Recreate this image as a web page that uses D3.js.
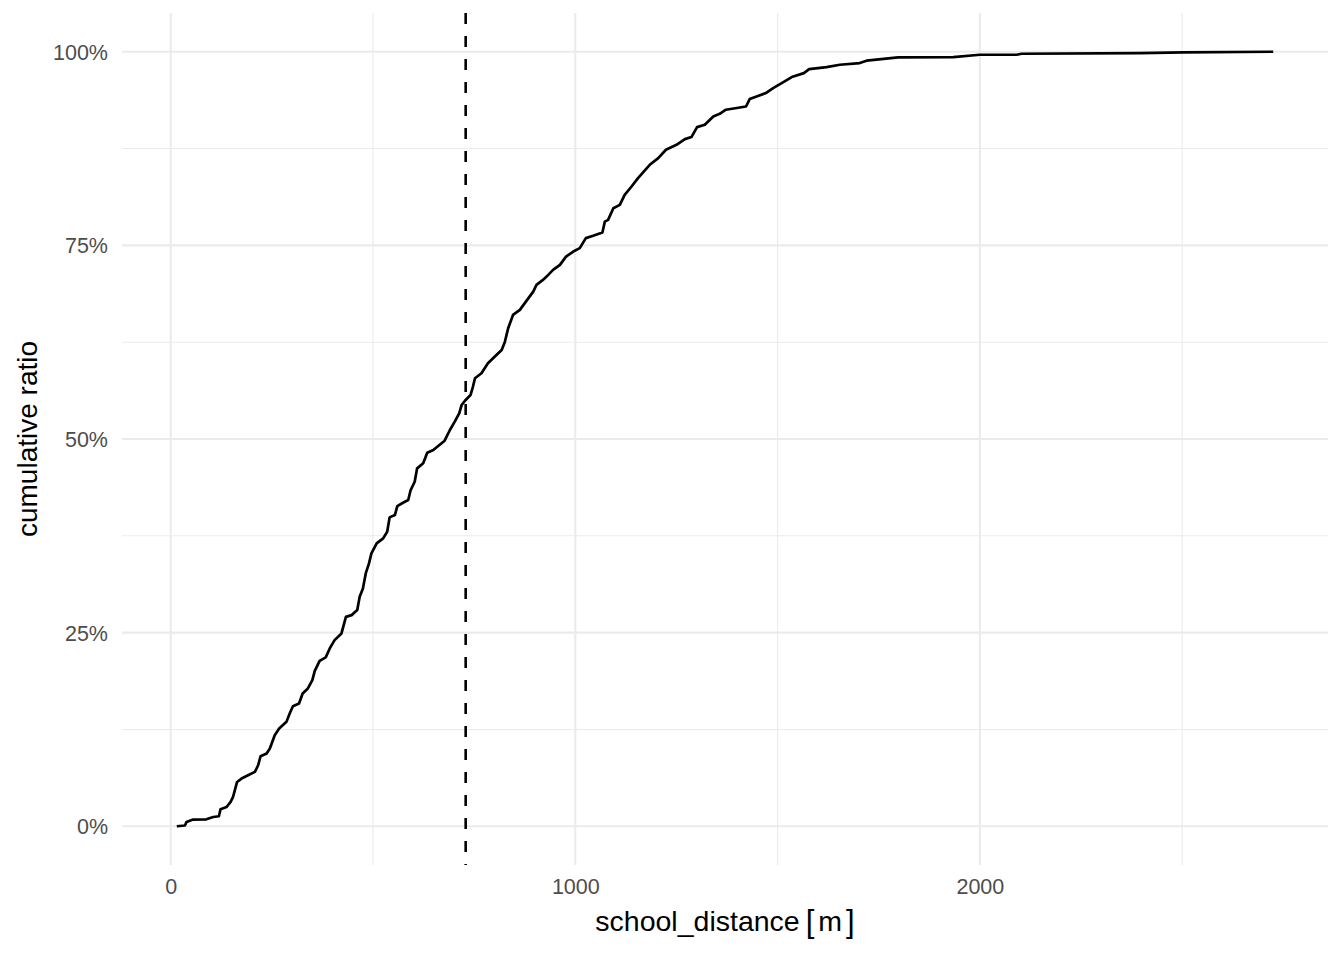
<!DOCTYPE html>
<html>
<head>
<meta charset="utf-8">
<script src="https://cdn.jsdelivr.net/npm/d3@7"></script>
<style>
  html, body { margin: 0; padding: 0; background: #fff; }
  svg { display: block; }
  text { font-family: "Liberation Sans", Arial, Helvetica, sans-serif; }
</style>
</head>
<body>
<svg id="chart" width="1344" height="960"></svg>
<script>
// ---- data ----
const distance = [15, 35, 39, 55, 88, 105, 119, 123, 138, 148, 154, 164, 175, 191, 208, 216, 222, 237, 245, 257, 268, 286, 294, 302, 317, 326, 339, 350, 356, 368, 383, 393, 405, 422, 433, 447, 461, 467, 475, 482, 490, 496, 509, 525, 535, 541, 554, 560, 574, 587, 593, 603, 609, 624, 634, 649, 661, 677, 690, 702, 713, 719, 729, 741, 747, 752, 768, 784, 805, 818, 826, 834, 846, 863, 881, 896, 904, 920, 929, 945, 962, 977, 995, 1011, 1026, 1044, 1067, 1073, 1081, 1094, 1110, 1122, 1139, 1155, 1184, 1205, 1224, 1250, 1271, 1287, 1301, 1320, 1341, 1357, 1372, 1399, 1422, 1431, 1448, 1471, 1489, 1510, 1535, 1565, 1578, 1621, 1654, 1703, 1720, 1798, 1934, 2000, 2091, 2103, 2396, 2503, 2725];
const cumulative = [0.0, 0.1, 0.56, 0.87, 0.9, 1.2, 1.29, 2.2, 2.49, 3.14, 3.79, 5.72, 6.16, 6.59, 7.02, 7.88, 9.04, 9.39, 10.04, 11.76, 12.62, 13.48, 14.56, 15.5, 15.85, 17.14, 17.79, 18.86, 20.06, 21.36, 21.8, 22.96, 24.03, 24.9, 27.04, 27.26, 27.91, 29.63, 30.71, 32.65, 33.94, 35.23, 36.52, 37.17, 38.02, 39.88, 40.18, 41.34, 41.77, 42.12, 43.41, 44.48, 46.21, 46.86, 48.23, 48.58, 49.1, 49.78, 51.16, 52.24, 53.32, 54.39, 55.04, 55.68, 56.76, 57.84, 58.49, 59.78, 60.85, 61.5, 62.57, 64.3, 66.02, 66.67, 67.96, 69.03, 69.9, 70.54, 70.97, 71.83, 72.48, 73.55, 74.2, 74.64, 75.93, 76.23, 76.65, 78.07, 78.29, 79.8, 80.23, 81.52, 82.6, 83.68, 85.4, 86.26, 87.34, 87.98, 88.72, 88.98, 90.27, 90.57, 91.64, 91.99, 92.51, 92.73, 92.93, 93.89, 94.22, 94.66, 95.31, 95.95, 96.73, 97.24, 97.76, 98.02, 98.32, 98.54, 98.84, 99.26, 99.31, 99.61, 99.61, 99.74, 99.83, 99.91, 100.0];
const medianDistance = 729;
const xTicks = [0, 1000, 2000];
const xMinorTicks = [500, 1500, 2500];
const yTicks = [0, 0.25, 0.5, 0.75, 1];
const yTickLabels = ["0%", "25%", "50%", "75%", "100%"];
const yMinorTicks = [0.125, 0.375, 0.625, 0.875];
const xTitle = "school_distance";
const xUnit = "m";
const yTitle = "cumulative ratio";

// ---- layout ----
const panel = { left: 122, right: 1328, top: 13, bottom: 865 };
const svg = d3.select("#chart");

const xMin = d3.min(distance), xMax = d3.max(distance);
const xPad = (xMax - xMin) * 0.05;
const x = d3.scaleLinear().domain([xMin - xPad, xMax + xPad]).range([panel.left, panel.right]);
const y = d3.scaleLinear().domain([-0.05, 1.05]).range([panel.bottom, panel.top]);

const grid = svg.append("g");
// minor grid
grid.selectAll(".xminor").data(xMinorTicks).join("line")
  .attr("x1", d => x(d)).attr("x2", d => x(d))
  .attr("y1", panel.top).attr("y2", panel.bottom)
  .attr("stroke", "#EBEBEB").attr("stroke-width", 1.1);
grid.selectAll(".yminor").data(yMinorTicks).join("line")
  .attr("y1", d => y(d)).attr("y2", d => y(d))
  .attr("x1", panel.left).attr("x2", panel.right)
  .attr("stroke", "#EBEBEB").attr("stroke-width", 1.1);
// major grid
grid.selectAll(".xmajor").data(xTicks).join("line")
  .attr("x1", d => x(d)).attr("x2", d => x(d))
  .attr("y1", panel.top).attr("y2", panel.bottom)
  .attr("stroke", "#EBEBEB").attr("stroke-width", 2.1);
grid.selectAll(".ymajor").data(yTicks).join("line")
  .attr("y1", d => y(d)).attr("y2", d => y(d))
  .attr("x1", panel.left).attr("x2", panel.right)
  .attr("stroke", "#EBEBEB").attr("stroke-width", 2.1);

// axes via d3 axis generators (labels only)
const xAxis = svg.append("g")
  .attr("transform", `translate(0,${panel.bottom})`)
  .call(d3.axisBottom(x).tickValues(xTicks).tickFormat(d3.format("d")).tickSize(0).tickPadding(14));
const yAxis = svg.append("g")
  .attr("transform", `translate(${panel.left},0)`)
  .call(d3.axisLeft(y).tickValues(yTicks).tickFormat((d, i) => yTickLabels[i]).tickSize(0).tickPadding(14));
[xAxis, yAxis].forEach(a => {
  a.select(".domain").remove();
  a.selectAll("text")
    .attr("fill", "#4D4D4D")
    .style("font-size", "21.5px")
    .style("font-family", '"Liberation Sans", Arial, Helvetica, sans-serif');
});
xAxis.selectAll("text").attr("dy", "0.71em").attr("y", 14);
yAxis.selectAll("text").attr("dy", "0.35em");

// dashed median line
svg.append("line")
  .attr("x1", x(medianDistance)).attr("x2", x(medianDistance))
  .attr("y1", panel.top).attr("y2", panel.bottom)
  .attr("stroke", "#000").attr("stroke-width", 2.6)
  .attr("stroke-dasharray", "11,12");

// cumulative curve
const pts = distance.map((d, i) => [d, cumulative[i] / 100]);
svg.append("path")
  .datum(pts)
  .attr("fill", "none")
  .attr("stroke", "#000")
  .attr("stroke-width", 2.7)
  .attr("stroke-linejoin", "round")
  .attr("d", d3.line().x(d => x(d[0])).y(d => y(d[1])));

// titles
const xt = svg.append("text")
  .attr("x", (panel.left + panel.right) / 2)
  .attr("y", 931)
  .attr("text-anchor", "middle")
  .attr("fill", "#000")
  .style("font-size", "28.5px");
xt.append("tspan").text(xTitle);
xt.append("tspan").attr("dx", 6).style("font-size", "31px").attr("dy", 1).text("[");
xt.append("tspan").attr("dx", 4).attr("dy", -1).text(xUnit);
xt.append("tspan").attr("dx", 4).style("font-size", "31px").attr("dy", 1).text("]");

svg.append("text")
  .attr("transform", `translate(37,${(panel.top + panel.bottom) / 2}) rotate(-90)`)
  .attr("text-anchor", "middle")
  .attr("fill", "#000")
  .style("font-size", "28px")
  .text(yTitle);
</script>
</body>
</html>
